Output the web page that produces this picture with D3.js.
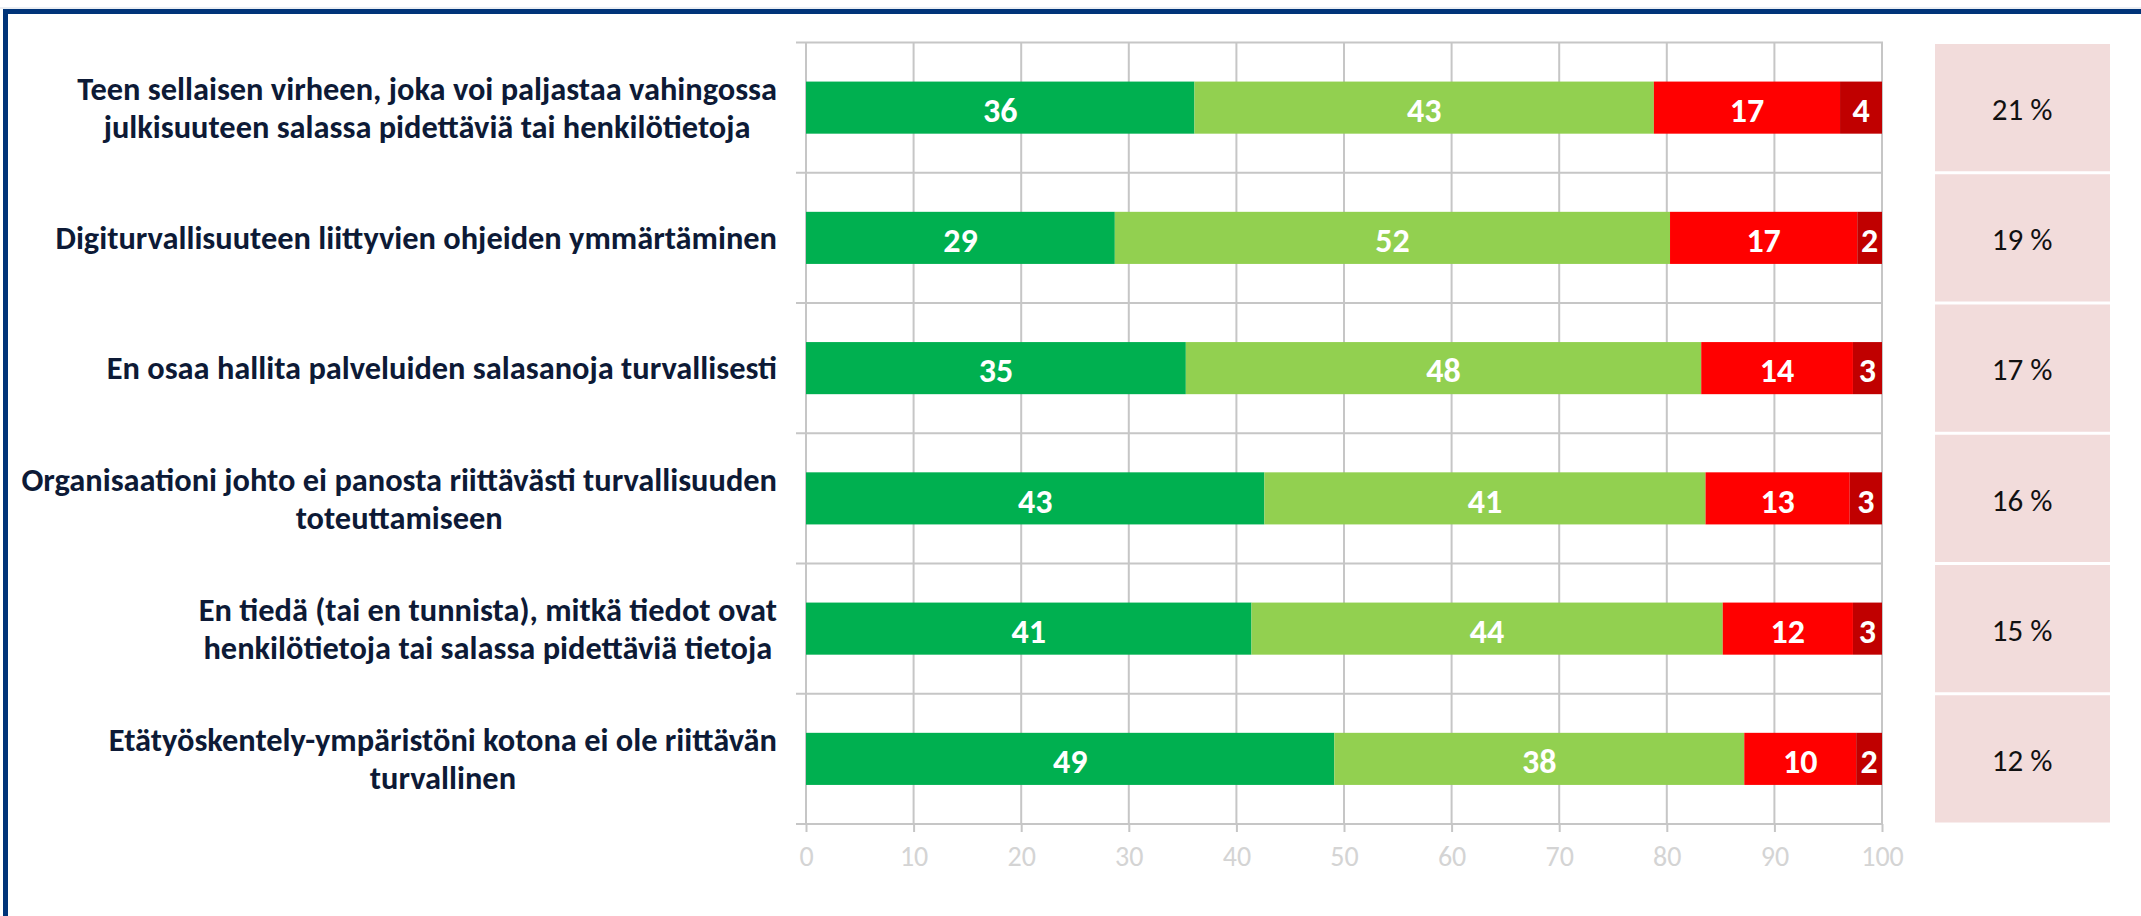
<!DOCTYPE html>
<html>
<head>
<meta charset="utf-8">
<script src="https://cdn.jsdelivr.net/npm/d3@7"></script>
<style>
  body { margin: 0; background: #fff; }
  svg { display: block; }
</style>
</head>
<body>
<script>
const categories = [
  ['Teen sellaisen virheen, joka voi paljastaa vahingossa', 'julkisuuteen salassa pidettäviä tai henkilötietoja'],
  ['Digiturvallisuuteen liittyvien ohjeiden ymmärtäminen'],
  ['En osaa hallita palveluiden salasanoja turvallisesti'],
  ['Organisaationi johto ei panosta riittävästi turvallisuuden', 'toteuttamiseen'],
  ['En tiedä (tai en tunnista), mitkä tiedot ovat', 'henkilötietoja tai salassa pidettäviä tietoja'],
  ['Etätyöskentely-ympäristöni kotona ei ole riittävän', 'turvallinen']
];
const darkGreen = [36.1, 28.7, 35.3, 42.6, 41.4, 49.1];
const lightGreen = [42.7, 51.6, 47.9, 41.0, 43.8, 38.1];
const red = [17.3, 17.4, 14.1, 13.4, 12.1, 10.4];
const darkRed = [3.9, 2.3, 2.7, 3.0, 2.7, 2.4];
const shares = ['21 %', '19 %', '17 %', '16 %', '15 %', '12 %'];
const xTicks = [0, 10, 20, 30, 40, 50, 60, 70, 80, 90, 100];

const seriesColors = ['#00b050', '#92d050', '#ff0000', '#c00000'];
const font = "Carlito, 'Liberation Sans Narrow', Lato, sans-serif";

const width = 2141, height = 916;
const svg = d3.select('body').append('svg')
  .attr('width', width)
  .attr('height', height);

// outer frame
svg.append('line')
  .attr('x1', 0).attr('x2', width)
  .attr('y1', 8).attr('y2', 8)
  .attr('stroke', '#d6dde6').attr('stroke-width', 1);
svg.append('rect')
  .attr('x', 5.5).attr('y', 11.5)
  .attr('width', width + 20).attr('height', height + 20)
  .attr('fill', 'none')
  .attr('stroke', '#003479')
  .attr('stroke-width', 5);

const x = d3.scaleLinear().domain([0, 100]).range([806, 1882]);
const y = d3.scaleBand()
  .domain(d3.range(categories.length))
  .range([42.5, 824])
  .paddingInner(0.6)
  .paddingOuter(0.3);
const step = y.step();
const bandTop = i => y(i) - y.paddingOuter() * step;

const grid = '#c6c6c6';

// vertical gridlines
svg.append('g').selectAll('line')
  .data(xTicks)
  .join('line')
  .attr('x1', d => x(d)).attr('x2', d => x(d))
  .attr('y1', 42.5).attr('y2', 824)
  .attr('stroke', grid).attr('stroke-width', 2);

// row separators (with small ticks to the left)
svg.append('g').selectAll('line')
  .data(d3.range(categories.length + 1))
  .join('line')
  .attr('x1', x(0) - 10).attr('x2', x(100) + 1)
  .attr('y1', i => 42.5 + i * step).attr('y2', i => 42.5 + i * step)
  .attr('stroke', grid).attr('stroke-width', 2);

// bottom axis
const axis = svg.append('g')
  .attr('transform', 'translate(0,824)')
  .call(d3.axisBottom(x).tickValues(xTicks).tickSize(8).tickSizeOuter(0).tickPadding(14));
axis.select('.domain').remove();
axis.selectAll('.tick line').attr('stroke', grid).attr('stroke-width', 2);
axis.selectAll('.tick text')
  .attr('fill', '#d4d4d4')
  .style('font-family', font)
  .style('font-size', '28px');

// stacked bars
const rows = categories.map((c, i) => ({
  i, vals: [darkGreen[i], lightGreen[i], red[i], darkRed[i]]
}));
const segs = [];
rows.forEach(r => {
  let acc = 0;
  r.vals.forEach((v, k) => {
    segs.push({ i: r.i, k, x0: acc, x1: acc + v, v });
    acc += v;
  });
});

svg.append('g').selectAll('rect')
  .data(segs)
  .join('rect')
  .attr('x', d => x(d.x0))
  .attr('y', d => y(d.i))
  .attr('width', d => x(d.x1) - x(d.x0))
  .attr('height', y.bandwidth())
  .attr('fill', d => seriesColors[d.k]);

svg.append('g').selectAll('text')
  .data(segs)
  .join('text')
  .attr('x', d => (x(d.x0) + x(d.x1)) / 2)
  .attr('y', d => y(d.i) + y.bandwidth() / 2 + 2)
  .attr('dy', '0.36em')
  .attr('text-anchor', 'middle')
  .attr('fill', '#fff')
  .style('font-family', font)
  .style('font-weight', 'bold')
  .style('font-size', '34px')
  .text(d => Math.round(d.v));

// share boxes on the right
const boxes = svg.append('g');
boxes.selectAll('rect')
  .data(shares)
  .join('rect')
  .attr('x', 1935)
  .attr('y', (d, i) => bandTop(i) + 1.5)
  .attr('width', 175)
  .attr('height', step - 3)
  .attr('fill', '#f2dcdb');
boxes.selectAll('text')
  .data(shares)
  .join('text')
  .attr('x', 2022)
  .attr('y', (d, i) => y(i) + y.bandwidth() / 2 + 1)
  .attr('dy', '0.36em')
  .attr('text-anchor', 'middle')
  .attr('fill', '#111')
  .style('font-family', font)
  .style('font-size', '31px')
  .text(d => d);

// category labels: block right-aligned, lines centred within block
const labelRight = 777;
const lineGap = 38;
const labels = svg.append('g')
  .style('font-family', font)
  .style('font-weight', 'bold')
  .attr('fill', '#0d1a36');

// fit font size so the first line matches the reference width
const probe = labels.append('text').style('font-size', '30px').text(categories[0][0]);
const fs = 30 * 700 / probe.node().getComputedTextLength();
probe.remove();
labels.style('font-size', fs + 'px');

categories.forEach((lines, i) => {
  const g = labels.append('g');
  const cy = y(i) + y.bandwidth() / 2;
  const texts = g.selectAll('text')
    .data(lines)
    .join('text')
    .attr('y', (d, j) => cy + (j - (lines.length - 1) / 2) * lineGap)
    .attr('dy', '0.35em')
    .attr('text-anchor', 'middle')
    .text(d => d);
  const w = d3.max(texts.nodes(), n => n.getComputedTextLength());
  texts.attr('x', labelRight - w / 2);
});
</script>
</body>
</html>
